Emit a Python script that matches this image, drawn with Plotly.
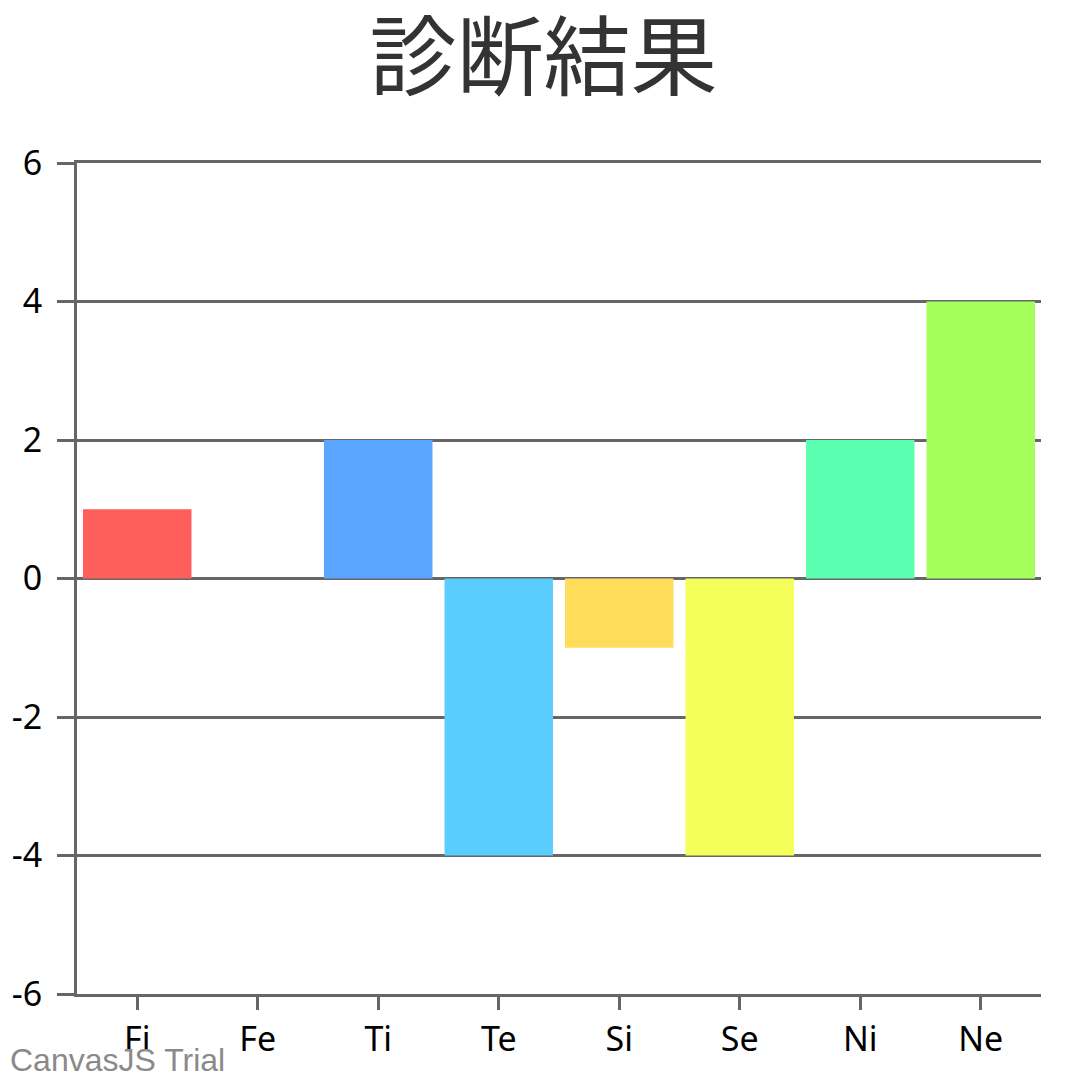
import plotly.graph_objects as go

categories = ["Fi", "Fe", "Ti", "Te", "Si", "Se", "Ni", "Ne"]
values = [1, 0, 2, -4, -1, -4, 2, 4]
colors = ["#FF5F5A", "#FF5AA5", "#5AA5FF", "#5ACDFF", "#FFDC5A", "#F5FF5A", "#5AFFAF", "#A5FF5A"]
y_ticks = [-6, -4, -2, 0, 2, 4, 6]

fig = go.Figure()
fig.add_trace(go.Bar(x=categories, y=values, marker=dict(color=colors, line=dict(width=0)), showlegend=False))

# the page body adds ~8px offset, so margins are trimmed to land the plot where the reference has it
axis_grey = "#666666"
fig.update_layout(
    width=1071, height=1080,
    paper_bgcolor="white", plot_bgcolor="white",
    margin=dict(l=69, r=38, t=155, b=94),
    bargap=0.1,
    title=dict(text="診断結果", x=0.5, xanchor="center", y=0.981, yanchor="top",
               font=dict(family="Noto Sans CJK JP", size=87, color="#333333")),
    font=dict(family="Noto Sans", color="black"),
)
fig.update_yaxes(
    range=[-6, 6], tickvals=y_ticks, ticktext=[str(v) for v in y_ticks],
    automargin=False,
    showgrid=True, gridcolor=axis_grey, gridwidth=2.5,
    zeroline=True, zerolinecolor=axis_grey, zerolinewidth=2.5,
    showline=True, linecolor=axis_grey, linewidth=3,
    ticks="outside", ticklen=17, tickcolor=axis_grey, tickwidth=2.5,
    tickfont=dict(size=34, color="black"), ticklabelstandoff=8,
)
# mirror gives the line along the top (the "6" gridline plotly skips at the edge)
fig.update_xaxes(
    automargin=False,
    showgrid=False, showline=True, mirror=True, linecolor=axis_grey, linewidth=2.5,
    ticks="outside", ticklen=13, tickcolor=axis_grey, tickwidth=2.5,
    tickfont=dict(size=34, color="black"),
)
fig.add_annotation(text="CanvasJS Trial", xref="paper", yref="paper", x=-69/964, y=-86/831,
                   xanchor="left", yanchor="bottom", showarrow=False,
                   font=dict(family="Liberation Sans", size=32, color="#8a8a8a"))

fig.write_html("out.html")
